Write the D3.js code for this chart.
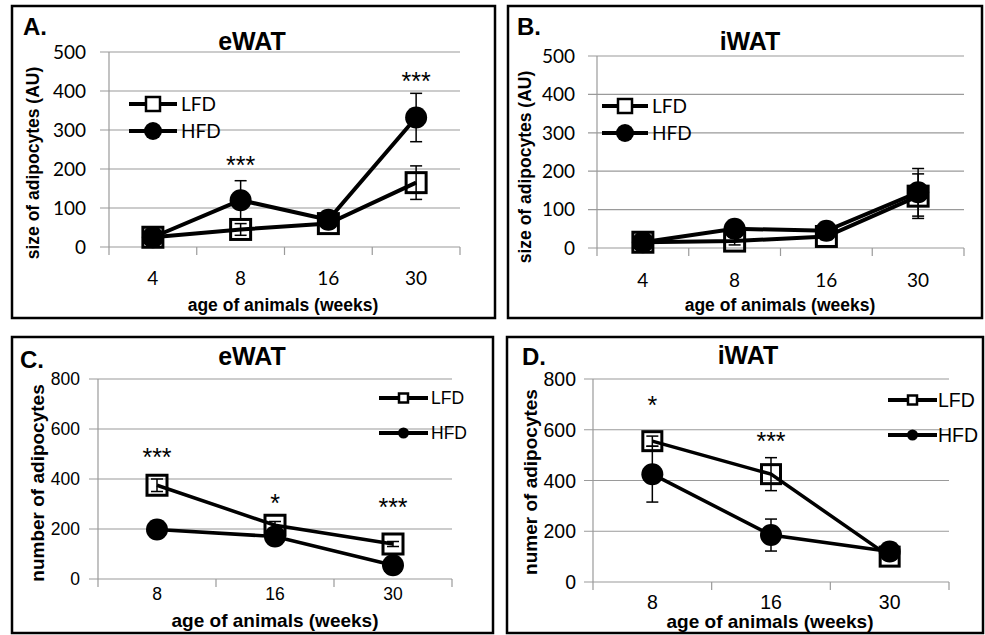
<!DOCTYPE html>
<html>
<head>
<meta charset="utf-8">
<script src="https://cdn.jsdelivr.net/npm/d3@7"></script>
<style>
  body { margin: 0; background: #fff; }
  svg { display: block; }
</style>
</head>
<body>
<div id="grafico"></div>
<script>
// categorias (semanas)
var weeksAB = ["4", "8", "16", "30"],
    weeksCD = ["8", "16", "30"];

// A. eWAT - tamanho
var sizeEwatLFD = [25, 45, 60, 165],
    sizeEwatLFDerr = [6, 15, 10, 43],
    sizeEwatHFD = [25, 120, 70, 332],
    sizeEwatHFDerr = [6, 50, 12, 62],
    starsA = ["", "***", "", "***"],
    starLevelA = [0, 220, 0, 436];

// B. iWAT - tamanho
var sizeIwatLFD = [15, 18, 30, 135],
    sizeIwatLFDerr = [5, 10, 8, 58],
    sizeIwatHFD = [15, 50, 45, 145],
    sizeIwatHFDerr = [5, 8, 8, 62],
    starsB = ["", "", "", ""],
    starLevelB = [0, 0, 0, 0];

// C. eWAT - numero
var numEwatLFD = [375, 215, 140],
    numEwatLFDerr = [25, 15, 10],
    numEwatHFD = [198, 170, 55],
    numEwatHFDerr = [10, 12, 8],
    starsC = ["***", "*", "***"],
    starLevelC = [504, 320, 304];

// D. iWAT - numero
var numIwatLFD = [555, 425, 100],
    numIwatLFDerr = [20, 65, 10],
    numIwatHFD = [425, 185, 120],
    numIwatHFDerr = [110, 63, 10],
    starsD = ["*", "***", ""],
    starLevelD = [713, 571, 0];

var yTicksAB = [0, 100, 200, 300, 400, 500],
    yTicksCD = [0, 200, 400, 600, 800];

var width = 985, height = 635;

var svg = d3.select("#grafico").append("svg")
    .attr("width", width)
    .attr("height", height);

svg.append("rect").attr("width", width).attr("height", height).attr("fill", "white");

var paineis = [
  { letra: "A.", titulo: "eWAT", ylabel: "size of adipocytes (AU)",
    box: [12, 6, 495, 318], x0: 109, x1: 460, yBase: 247, yTop: 52, max: 500, ticks: yTicksAB,
    cats: weeksAB, lfd: sizeEwatLFD, lfdErr: sizeEwatLFDerr, hfd: sizeEwatHFD, hfdErr: sizeEwatHFDerr,
    stars: starsA, starLevel: starLevelA,
    tituloX: 252, tituloY: 50, letraX: 23, letraY: 35, ylabX: 33, ylabY: 163,
    xlabX: 283, xlabY: 311, tickY: 285, tickOff: 23, tickFont: "Lato, 'Open Sans', sans-serif", tickSize: 19,
    leg: { x1: 129, x2: 177, y1: 104, y2: 131, tx: 181, sq: 14, r: 9 },
    labSize: 17.5, lw: 4, sq: 20, r: 11 },
  { letra: "B.", titulo: "iWAT", ylabel: "size of adipocytes (AU)",
    box: [508, 6, 982, 318], x0: 597, x1: 964, yBase: 248, yTop: 56, max: 500, ticks: yTicksAB,
    cats: weeksAB, lfd: sizeIwatLFD, lfdErr: sizeIwatLFDerr, hfd: sizeIwatHFD, hfdErr: sizeIwatHFDerr,
    stars: starsB, starLevel: starLevelB,
    tituloX: 750, tituloY: 50, letraX: 517, letraY: 35, ylabX: 525, ylabY: 167,
    xlabX: 780, xlabY: 311, tickY: 287, tickOff: 22, tickFont: "Lato, 'Open Sans', sans-serif", tickSize: 19,
    leg: { x1: 602, x2: 648, y1: 106, y2: 133, tx: 652, sq: 14, r: 9 },
    labSize: 17.5, lw: 4, sq: 20, r: 11 },
  { letra: "C.", titulo: "eWAT", ylabel: "number of adipocytes",
    box: [12, 337, 493, 633], x0: 98, x1: 452, yBase: 579, yTop: 379, max: 800, ticks: yTicksCD,
    cats: weeksCD, lfd: numEwatLFD, lfdErr: numEwatLFDerr, hfd: numEwatHFD, hfdErr: numEwatHFDerr,
    stars: starsC, starLevel: starLevelC,
    tituloX: 252, tituloY: 365, letraX: 20, letraY: 368, ylabX: 37, ylabY: 483,
    xlabX: 275, xlabY: 627, tickY: 600, tickOff: 18, tickFont: "'Liberation Sans', Arial, sans-serif", tickSize: 17.5,
    leg: { x1: 379, x2: 428, y1: 398, y2: 433, tx: 431, sq: 9, r: 5.5 },
    labSize: 19, lw: 3.5, sq: 20, r: 11 },
  { letra: "D.", titulo: "iWAT", ylabel: "numer of adipocytes",
    box: [507, 337, 983, 633], x0: 593, x1: 949, yBase: 582, yTop: 379, max: 800, ticks: yTicksCD,
    cats: weeksCD, lfd: numIwatLFD, lfdErr: numIwatLFDerr, hfd: numIwatHFD, hfdErr: numIwatHFDerr,
    stars: starsD, starLevel: starLevelD,
    tituloX: 748, tituloY: 364, letraX: 522, letraY: 365, ylabX: 530, ylabY: 482,
    xlabX: 770, xlabY: 628, tickY: 609, tickOff: 17, tickFont: "'Liberation Sans', Arial, sans-serif", tickSize: 19.5,
    leg: { x1: 888, x2: 937, y1: 400, y2: 435, tx: 938, sq: 9, r: 5.5 },
    labSize: 19, lw: 3.5, sq: 19, r: 11 }
];

var bold = "'Liberation Sans', Arial, sans-serif";

function desenha_painel(p) {
  var g = svg.append("g");

  // moldura
  g.append("rect")
    .attr("x", p.box[0]).attr("y", p.box[1])
    .attr("width", p.box[2] - p.box[0]).attr("height", p.box[3] - p.box[1])
    .attr("fill", "none").attr("stroke", "black").attr("stroke-width", 2.5);

  var x = d3.scaleBand().domain(p.cats).range([p.x0, p.x1]).padding(0);
  var y = d3.scaleLinear().domain([0, p.max]).range([p.yBase, p.yTop]);
  var cx = function(i) { return x(p.cats[i]) + x.bandwidth() / 2; };

  // grade
  g.selectAll(".grid").data(p.ticks).enter().append("line")
    .attr("x1", p.x0 - 9).attr("x2", p.x1)
    .attr("y1", function(d) { return y(d); }).attr("y2", function(d) { return y(d); })
    .attr("stroke", "#9a9a9a").attr("stroke-width", 1.2);

  g.append("line")
    .attr("x1", p.x0).attr("x2", p.x0)
    .attr("y1", y(p.max)).attr("y2", p.yBase + 8)
    .attr("stroke", "#9a9a9a").attr("stroke-width", 1.2);

  // marcas do eixo x
  var bordas = p.cats.map(function(c) { return x(c) + x.bandwidth(); });
  g.selectAll(".xt").data(bordas).enter().append("line")
    .attr("x1", function(d) { return d; }).attr("x2", function(d) { return d; })
    .attr("y1", p.yBase).attr("y2", p.yBase + 8)
    .attr("stroke", "#9a9a9a").attr("stroke-width", 1.2);

  // rótulos dos ticks
  g.selectAll(".yl").data(p.ticks).enter().append("text")
    .attr("x", p.x0 - p.tickOff).attr("y", function(d) { return y(d); })
    .attr("dy", "0.36em").attr("text-anchor", "end")
    .attr("font-family", p.tickFont).attr("font-size", p.tickSize)
    .text(function(d) { return d; });

  g.selectAll(".xl").data(p.cats).enter().append("text")
    .attr("x", function(d, i) { return cx(i); }).attr("y", p.tickY)
    .attr("text-anchor", "middle")
    .attr("font-family", p.tickFont).attr("font-size", p.tickSize)
    .text(function(d) { return d; });

  // títulos
  g.append("text").attr("x", p.tituloX).attr("y", p.tituloY)
    .attr("text-anchor", "middle").attr("font-family", bold)
    .attr("font-weight", "bold").attr("font-size", 25).text(p.titulo);

  g.append("text").attr("x", p.letraX).attr("y", p.letraY)
    .attr("font-family", bold).attr("font-weight", "bold")
    .attr("font-size", 24).text(p.letra);

  g.append("text")
    .attr("transform", "translate(" + p.ylabX + "," + p.ylabY + ") rotate(-90)")
    .attr("dy", "0.35em").attr("text-anchor", "middle")
    .attr("font-family", bold).attr("font-weight", "bold")
    .attr("font-size", p.labSize).text(p.ylabel);

  g.append("text").attr("x", p.xlabX).attr("y", p.xlabY)
    .attr("text-anchor", "middle").attr("font-family", bold)
    .attr("font-weight", "bold").attr("font-size", p.labSize)
    .text("age of animals (weeks)");

  var linha = d3.line()
    .x(function(d, i) { return cx(i); })
    .y(function(d) { return y(d); });

  var series = [
    { v: p.lfd, e: p.lfdErr },
    { v: p.hfd, e: p.hfdErr }
  ];

  // barras de erro
  series.forEach(function(s) {
    s.v.forEach(function(v, i) {
      var xx = cx(i);
      g.append("line").attr("x1", xx).attr("x2", xx)
        .attr("y1", y(v - s.e[i])).attr("y2", y(v + s.e[i]))
        .attr("stroke", "black").attr("stroke-width", 1.5);
      [v - s.e[i], v + s.e[i]].forEach(function(t) {
        g.append("line").attr("x1", xx - 6).attr("x2", xx + 6)
          .attr("y1", y(t)).attr("y2", y(t))
          .attr("stroke", "black").attr("stroke-width", 1.5);
      });
    });
  });

  series.forEach(function(s) {
    g.append("path").attr("d", linha(s.v))
      .attr("fill", "none").attr("stroke", "black").attr("stroke-width", p.lw);
  });

  // marcadores
  g.selectAll(".sq").data(p.lfd).enter().append("rect")
    .attr("x", function(d, i) { return cx(i) - p.sq / 2; })
    .attr("y", function(d) { return y(d) - p.sq / 2; })
    .attr("width", p.sq).attr("height", p.sq)
    .attr("fill", "none").attr("stroke", "black").attr("stroke-width", 3);

  g.selectAll(".ci").data(p.hfd).enter().append("circle")
    .attr("cx", function(d, i) { return cx(i); })
    .attr("cy", function(d) { return y(d); })
    .attr("r", p.r).attr("fill", "black");

  // asteriscos
  g.selectAll(".st").data(p.stars).enter().append("text")
    .attr("x", function(d, i) { return cx(i); })
    .attr("y", function(d, i) { return y(p.starLevel[i]); })
    .attr("dy", "0.52em").attr("text-anchor", "middle")
    .attr("font-family", bold).attr("font-size", 25)
    .text(function(d) { return d; });

  // legenda
  var L = p.leg, mx = (L.x1 + L.x2) / 2;
  [L.y1, L.y2].forEach(function(yy) {
    g.append("line").attr("x1", L.x1).attr("x2", L.x2).attr("y1", yy).attr("y2", yy)
      .attr("stroke", "black").attr("stroke-width", 4);
  });
  g.append("rect").attr("x", mx - L.sq / 2).attr("y", L.y1 - L.sq / 2)
    .attr("width", L.sq).attr("height", L.sq)
    .attr("fill", "white").attr("stroke", "black").attr("stroke-width", 2.5);
  g.append("circle").attr("cx", mx).attr("cy", L.y2).attr("r", L.r).attr("fill", "black");
  g.append("text").attr("x", L.tx).attr("y", L.y1).attr("dy", "0.36em")
    .attr("font-family", p.tickFont).attr("font-size", p.tickSize).text("LFD");
  g.append("text").attr("x", L.tx).attr("y", L.y2).attr("dy", "0.36em")
    .attr("font-family", p.tickFont).attr("font-size", p.tickSize).text("HFD");
}

paineis.forEach(desenha_painel);
</script>
</body>
</html>
